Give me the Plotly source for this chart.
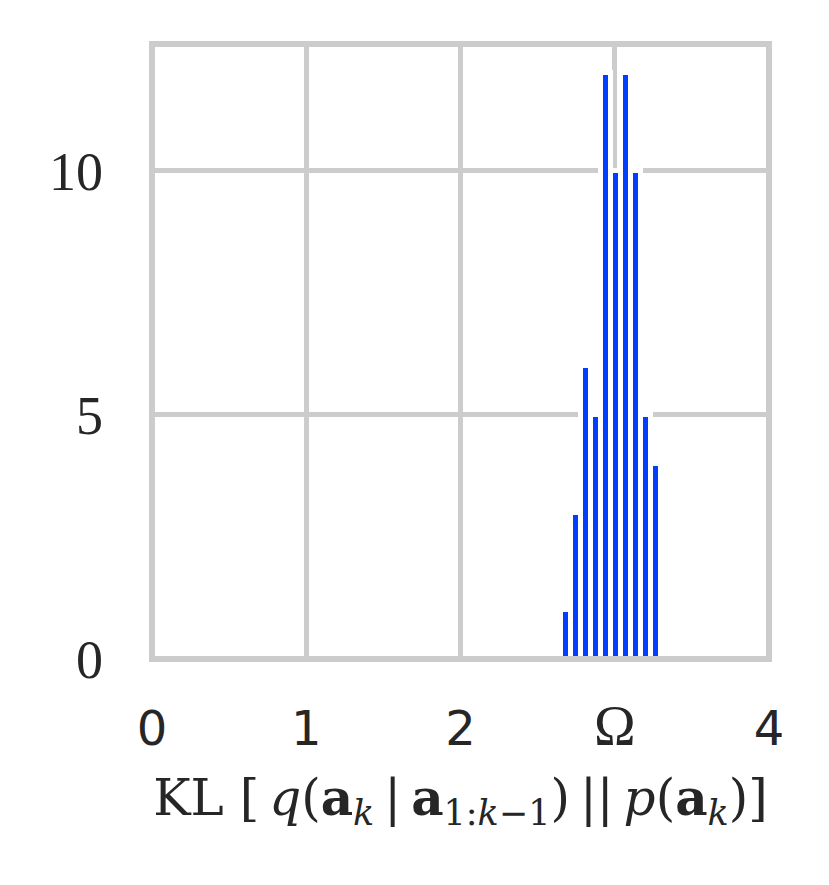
import plotly.graph_objects as go

# Histogram data
bin_centers = [2.683, 2.748, 2.813, 2.878, 2.944, 3.009, 3.074, 3.139, 3.204, 3.270]
counts = [1, 3, 6, 5, 12, 10, 12, 10, 5, 4]
bin_width = 0.0652

x_tickvals = [0, 1, 2, 3, 4]
x_ticktext = ["0", "1", "2", "<span style='font-family:Liberation Serif;font-size:56px'>Ω</span>", "4"]
y_tickvals = [0, 5, 10]
y_ticktext = ["0", "5", "10"]

grid = "#cccccc"
txt = "#262626"
ts = "\u2009"  # thin space

fig = go.Figure()
fig.add_trace(go.Bar(
    x=bin_centers, y=counts, width=[bin_width] * len(counts),
    marker=dict(color="#023eff", line=dict(color="white", width=5)),
    hoverinfo="skip",
))

# axes frame (centred on the plot edges, drawn above bars)
fig.add_shape(type="rect", xref="paper", yref="paper", x0=0, x1=1, y0=0, y1=1,
              line=dict(color=grid, width=6), layer="above")

title_text = ("KL [" + ts + "<i>q</i>(<b>a</b><sub><i>k</i></sub>" + ts + "|" + ts +
              "<b>a</b><sub>1:<i>k</i>−1</sub>)" + ts + "||" + ts +
              "<i>p</i>(<b>a</b><sub><i>k</i></sub>)]")

fig.update_layout(
    width=821, height=877,
    margin=dict(l=144, r=60, t=36, b=226),
    plot_bgcolor="white", paper_bgcolor="white",
    showlegend=False,
    bargap=0,
    xaxis=dict(
        range=[0, 4], tickvals=x_tickvals, ticktext=x_ticktext,
        showgrid=True, gridcolor=grid, gridwidth=5,
        showline=False, zeroline=False, ticks="", ticklabelstandoff=37, automargin=False,
        tickfont=dict(family="DejaVu Sans", size=48, color=txt),
        title=dict(
            text=title_text,
            font=dict(family="DejaVu Serif", size=50, color=txt),
            standoff=23,
        ),
    ),
    yaxis=dict(
        range=[0, 12.6], tickvals=y_tickvals, ticktext=y_ticktext,
        showgrid=True, gridcolor=grid, gridwidth=5,
        showline=False, zeroline=False, ticks="", ticklabelstandoff=48, automargin=False,
        tickfont=dict(family="Liberation Serif", size=54, color=txt),
    ),
)

fig.write_html("out.html")
